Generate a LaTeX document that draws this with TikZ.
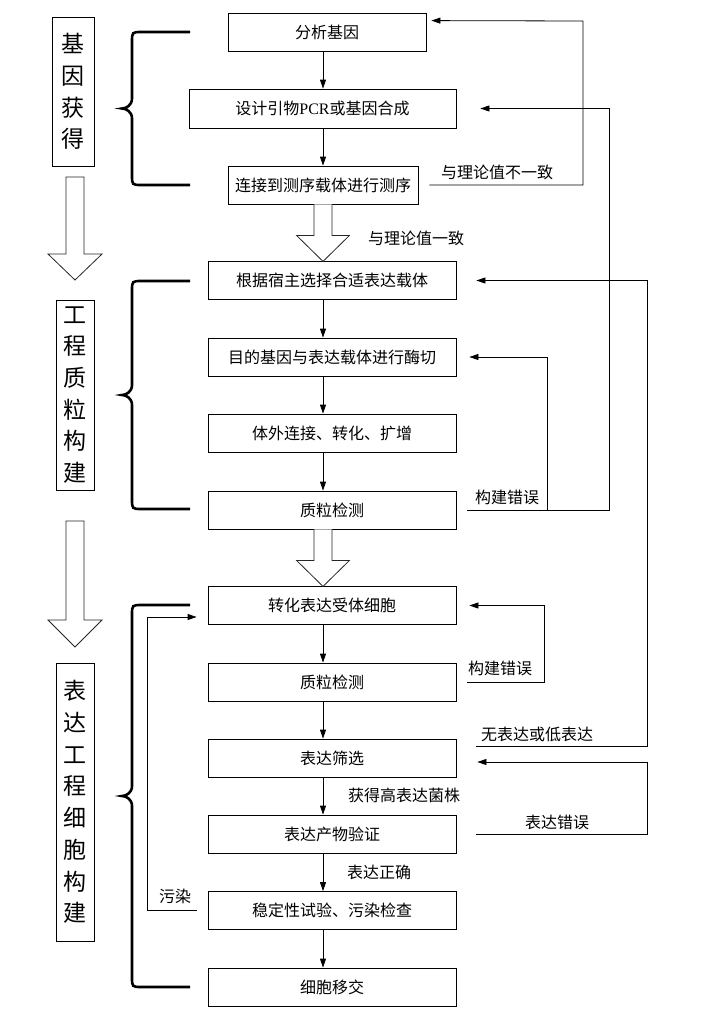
\documentclass[tikz,border=0pt]{standalone}
\usepackage{fontspec}
\setmainfont{Noto Sans CJK SC}
\newfontfamily\latserif{Liberation Serif}
\usetikzlibrary{arrows.meta,calc}
\newcommand\mybrc[2]{%
  \draw[brc] (190,#1) -- (142,#1) .. controls (132,#1) .. (132,#1+10)
    -- (132,{(#1+#2)/2-10}) .. controls (132,{(#1+#2)/2-3}) and (126,{(#1+#2)/2}) .. (122,{(#1+#2)/2})
    .. controls (126,{(#1+#2)/2}) and (132,{(#1+#2)/2+3}) .. (132,{(#1+#2)/2+10})
    -- (132,#2-10) .. controls (132,#2) .. (142,#2) -- (190,#2);}
\begin{document}
\begin{tikzpicture}[x=1pt,y=-1pt,
  box/.style={draw=black,line width=0.8pt,minimum height=38pt,inner sep=0pt,font=\fontsize{16}{18}\selectfont},
  side/.style={draw=black,line width=0.8pt,inner sep=0pt,align=center,font=\fontsize{23}{31.7}\selectfont},
  lab/.style={font=\fontsize{16}{18}\selectfont,inner sep=0pt},
  arr/.style={line width=0.8pt,-{Triangle[length=9pt,width=6pt]}},
  hol/.style={draw=black!85,line width=0.8pt,fill=white},
  brc/.style={line width=2.6pt}]
\useasboundingbox[fill=white] (0,0) rectangle (705,1020);

% side labels
\node[side,minimum width=42pt,minimum height=149pt] (sA) at (73,91.5) {基\\因\\获\\得};
\node[side,minimum width=38pt,minimum height=190pt] (sB) at (75,395) {工\\程\\质\\粒\\构\\建};
\node[side,minimum width=38pt,minimum height=278pt] (sC) at (75,802) {表\\达\\工\\程\\细\\胞\\构\\建};
\draw[hol] (66,177) -- (66,254) -- (48,254) -- (75,280) -- (102,254) -- (84,254) -- (84,177) -- cycle;
\draw[hol] (66,521) -- (66,620) -- (48,620) -- (75,647) -- (102,620) -- (84,620) -- (84,521) -- cycle;

% braces
\mybrc{32}{185}
\mybrc{281}{509}
\mybrc{605}{987}

% main boxes
\node[box,minimum width=198pt] (b1) at (327,32) {分析基因};
\node[box,minimum width=267pt,minimum height=39pt] (b2) at (322.5,108.5) {设计引物{\latserif PCR}或基因合成};
\node[box,minimum width=190pt] (b3) at (323,185) {连接到测序载体进行测序};
\node[box,minimum width=248pt] (b4) at (332,280.5) {根据宿主选择合适表达载体};
\node[box,minimum width=248pt] (b5) at (332,357) {目的基因与表达载体进行酶切};
\node[box,minimum width=248pt] (b6) at (332,433) {体外连接、转化、扩增};
\node[box,minimum width=248pt] (b7) at (332,510) {质粒检测};
\node[box,minimum width=248pt] (b8) at (332,605.5) {转化表达受体细胞};
\node[box,minimum width=248pt] (b9) at (332,682) {质粒检测};
\node[box,minimum width=248pt] (b10) at (332,758) {表达筛选};
\node[box,minimum width=248pt] (b11) at (332,834) {表达产物验证};
\node[box,minimum width=248pt] (b12) at (332,910.5) {稳定性试验、污染检查};
\node[box,minimum width=248pt] (b13) at (332,987) {细胞移交};

% straight arrows
\coordinate (ax) at (323,0);
\foreach \a/\b in {b1/b2,b2/b3,b4/b5,b5/b6,b6/b7,b8/b9,b9/b10,b10/b11,b11/b12,b12/b13}
  \draw[arr] (\a.south -| ax) -- (\b.north -| ax);

% hollow arrows
\draw[hol] ($(b3.south -| ax)+(-9,0)$) -- ++(0,31) -- ++(-17.5,0) -- ++(26.5,26) -- ++(26.5,-26) -- ++(-17.5,0) -- ++(0,-31);
\draw[hol] ($(b7.south -| ax)+(-9,0)$) -- ++(0,31) -- ++(-17.5,0) -- ++(26.5,26) -- ++(26.5,-26) -- ++(-17.5,0) -- ++(0,-31);

% feedback connectors
\coordinate (c1) at (583,21);
\draw[arr] ([xshift=11pt]b3.east) -| (c1) -- ([xshift=5pt,yshift=-8pt]b1.north east);
\coordinate (c2) at (547,357);
\draw[arr] ([xshift=11pt]b7.east) -| (c2) -- ([xshift=13pt]b5.east);
\coordinate (c3) at (609,108.5);
\draw[arr] (c2 |- b7.east) -| (c3) -- ([xshift=24pt]b2.east);
\coordinate (c4) at (647,280.5);
\draw[arr] ([xshift=20pt,yshift=12pt]b10.east) -| (c4) -- ([xshift=20pt]b4.east);
\coordinate (c5) at (647,762);
\draw[arr] ([xshift=20pt]b11.east) -| (c5) -- ([xshift=21pt,yshift=-4pt]b10.east);
\coordinate (c6) at (544,605.5);
\draw[arr] ([xshift=11pt]b9.east) -| (c6) -- ([xshift=13pt]b8.east);
\coordinate (c7) at (147,617);
\draw[arr] ([xshift=-11pt]b12.west) -| (c7) -- ([xshift=-11pt,yshift=-11.5pt]b8.west);

% labels
\node[lab] (l1) at (497,172) {与理论值不一致};
\node[lab] (l2) at (416,238) {与理论值一致};
\node[lab] (l3) at (507,497) {构建错误};
\node[lab] (l4) at (500,668) {构建错误};
\node[lab] (l5) at (537,734) {无表达或低表达};
\node[lab] (l6) at (404,795) {获得高表达菌株};
\node[lab] (l7) at (557,822) {表达错误};
\node[lab] (l8) at (379,872) {表达正确};
\node[lab] (l9) at (175,896) {污染};
\end{tikzpicture}
\end{document}
